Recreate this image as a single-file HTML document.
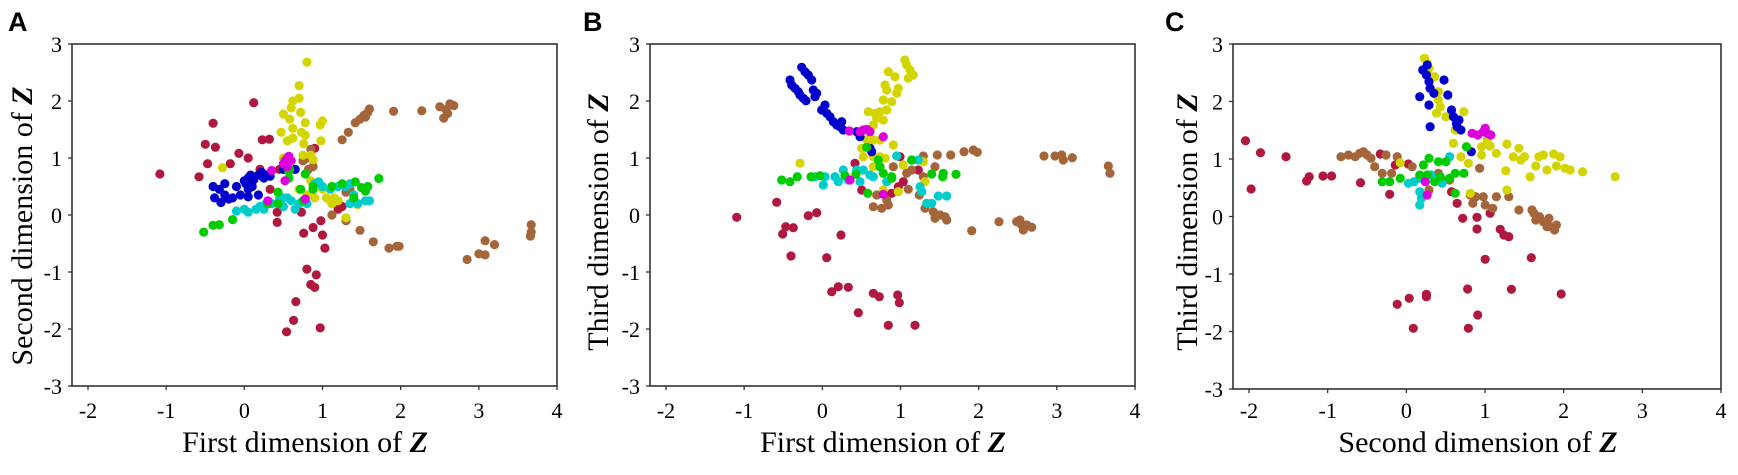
<!DOCTYPE html>
<html><head><meta charset="utf-8"><style>
html,body{margin:0;padding:0;background:#fff;}
svg{display:block;}
</style></head><body>
<svg id="s" width="1738" height="475" xmlns="http://www.w3.org/2000/svg" font-family="'Liberation Serif', serif">
<text x="8" y="31" font-family="'Liberation Sans', sans-serif" font-weight="bold" font-size="27">A</text>
<text x="583" y="31" font-family="'Liberation Sans', sans-serif" font-weight="bold" font-size="27">B</text>
<text x="1165" y="31" font-family="'Liberation Sans', sans-serif" font-weight="bold" font-size="27">C</text>
<text x="305" y="452" font-size="30" text-anchor="middle">First dimension of <tspan font-weight="bold" font-style="italic">Z</tspan></text>
<text x="883" y="452" font-size="30" text-anchor="middle">First dimension of <tspan font-weight="bold" font-style="italic">Z</tspan></text>
<text x="1478" y="452" font-size="30" text-anchor="middle">Second dimension of <tspan font-weight="bold" font-style="italic">Z</tspan></text>
<text transform="translate(32,226) rotate(-90)" font-size="30" text-anchor="middle">Second dimension of <tspan font-weight="bold" font-style="italic">Z</tspan></text>
<text transform="translate(608,222) rotate(-90)" font-size="30" text-anchor="middle">Third dimension of <tspan font-weight="bold" font-style="italic">Z</tspan></text>
<text transform="translate(1197,222) rotate(-90)" font-size="30" text-anchor="middle">Third dimension of <tspan font-weight="bold" font-style="italic">Z</tspan></text>
<g id="g"></g>
</svg>
<script>
var NS="http://www.w3.org/2000/svg",g=document.getElementById('g');
function el(t,a,txt){var e=document.createElementNS(NS,t);for(var k in a)e.setAttribute(k,a[k]);if(txt!==undefined)e.textContent=txt;g.appendChild(e);return e;}
var C={r:'#b0183f',b:'#a5653a',y:'#d4d400',u:'#0000cc',c:'#00cccc',g:'#00cc00',m:'#dd00dd'};
function axes(L,R,T,B,x0,x4){
 el('rect',{x:L,y:T,width:R-L,height:B-T,fill:'none',stroke:'#333','stroke-width':1.6});
 for(var i=0;i<=6;i++){var x=x0+(x4-x0)*i/6;el('line',{x1:x,x2:x,y1:B,y2:B+4,stroke:'#333','stroke-width':1.3});
  el('text',{x:x,y:418,'font-size':22,'text-anchor':'middle'},String(i-2));}
 for(var j=0;j<=6;j++){var y=B-(B-T)*j/6;el('line',{x1:L-4,x2:L,y1:y,y2:y,stroke:'#333','stroke-width':1.3});
  el('text',{x:L-10,y:y+8,'font-size':22,'text-anchor':'end'},String(j-3));}
}
axes(72,557,44,386,88,557);
axes(650,1135,44,386,666,1135);
axes(1233,1721,44,389,1249,1721);
function dot(x,y,c){el('circle',{cx:x.toFixed(1),cy:y.toFixed(1),r:4.6,fill:C[c]});}
var A={
r:[[-1.08,0.72],[-0.58,0.67],[-0.5,1.24],[-0.47,0.9],[-0.4,1.61],[-0.37,1.19],[-0.18,0.9],[-0.07,1.08],[0.05,1.0],[0.12,1.97],[0.23,1.32],[0.32,1.33],[0.2,0.8],[0.33,0.45],[0.42,0.05],[0.42,-0.13],[0.73,0.05],[0.76,-0.32],[0.8,-0.95],[0.66,-1.52],[0.63,-1.85],[0.54,-2.05],[0.97,-1.98],[0.92,-1.05],[0.85,-1.22],[0.9,-1.27],[0.88,-0.22],[0.98,-0.1],[1.0,-0.35],[1.03,-0.58],[1.2,0.1],[1.25,0.15],[0.9,1.17],[0.45,0.8]],
b:[[1.25,1.32],[1.33,1.45],[1.42,1.62],[1.48,1.68],[1.53,1.75],[1.58,1.8],[1.6,1.86],[1.55,1.72],[1.91,1.82],[2.27,1.83],[2.5,1.9],[2.55,1.7],[2.58,1.85],[2.63,1.95],[2.68,1.92],[2.6,1.78],[3.67,-0.17],[3.67,-0.3],[3.66,-0.37],[3.2,-0.52],[3.08,-0.45],[3.08,-0.7],[3.0,-0.68],[2.85,-0.78],[1.95,-0.55],[1.85,-0.58],[1.98,-0.55],[1.65,-0.47],[1.48,-0.27],[1.3,-0.1],[1.12,0.0],[1.3,0.4],[1.35,0.45],[0.8,1.0],[0.75,0.95],[0.82,0.8],[0.88,0.85],[0.85,1.15]],
y:[[0.8,2.68],[0.7,2.27],[0.7,2.05],[0.62,2.0],[0.6,1.88],[0.5,1.77],[0.72,1.8],[0.58,1.68],[0.62,1.52],[0.78,1.62],[0.47,1.45],[0.55,1.3],[0.62,1.35],[0.73,1.45],[0.76,1.25],[0.78,1.4],[1.0,1.65],[0.97,1.58],[0.98,1.3],[0.85,1.05],[0.88,0.97],[0.5,1.0],[0.75,1.05],[-0.28,0.83],[0.7,0.45],[0.85,0.6],[0.95,0.55],[1.0,0.45],[1.05,0.3],[1.1,0.25],[1.15,0.3],[1.2,0.25],[1.12,0.2],[1.3,-0.05],[1.45,0.18],[0.8,0.35],[0.9,0.3]],
u:[[-0.4,0.5],[-0.38,0.3],[-0.32,0.45],[-0.3,0.22],[-0.25,0.35],[-0.25,0.55],[-0.2,0.28],[-0.15,0.3],[-0.1,0.5],[-0.05,0.35],[0.0,0.6],[0.02,0.55],[0.05,0.65],[0.08,0.7],[0.12,0.62],[0.18,0.7],[0.22,0.75],[0.25,0.65],[0.05,0.45],[0.05,0.32],[0.18,0.35],[0.28,0.7],[0.33,0.68],[0.5,0.8],[0.65,0.8],[0.1,0.5]],
c:[[-0.1,0.07],[0.0,0.1],[0.05,0.05],[0.15,0.1],[0.2,0.15],[0.28,0.2],[0.35,0.2],[0.45,0.28],[0.5,0.3],[0.55,0.3],[0.6,0.25],[0.65,0.1],[0.7,0.2],[0.8,0.2],[0.9,0.55],[0.95,0.58],[1.1,0.45],[1.2,0.5],[1.3,0.5],[1.35,0.55],[1.4,0.35],[1.45,0.2],[1.55,0.25],[1.6,0.25],[1.35,0.2],[0.5,0.15],[0.25,0.1],[1.0,0.5]],
g:[[-0.52,-0.3],[-0.4,-0.18],[-0.32,-0.17],[-0.15,-0.08],[0.3,0.2],[0.43,0.2],[0.43,0.4],[0.57,0.65],[0.57,0.77],[0.72,0.45],[0.75,0.25],[0.78,0.72],[0.88,0.5],[0.88,0.45],[1.12,0.5],[1.25,0.55],[1.42,0.58],[1.4,0.3],[1.5,0.48],[1.55,0.45],[1.58,0.5],[1.55,0.42],[1.72,0.64],[0.58,0.8]],
m:[[0.5,0.9],[0.52,0.95],[0.55,1.0],[0.57,1.03],[0.6,0.95],[0.55,0.85],[0.35,0.78],[0.3,0.25],[0.78,0.28],[0.52,0.6]]};
var order=['r','b','y','u','c','g','m'];
order.forEach(function(k){A[k].forEach(function(p){dot(88+(p[0]+2)*78.17,386-(p[1]+3)*57,k);});});
var B={
r:[[290,562],[410,517],[505,557],[530,548],[437,590],[460,593],[428,612],[603,615],[453,678],[560,683],[575,785],[595,770],[625,772],[700,790],[718,800],[773,795],[778,818],[655,848],[745,886],[825,886],[645,400],[665,480],[755,490],[775,470],[790,455],[780,380],[835,420]],
b:[[850,378],[892,375],[932,375],[972,365],[1000,360],[1012,367],[1212,378],[1245,378],[1265,375],[1270,390],[1297,383],[1405,408],[1410,430],[700,530],[725,535],[745,525],[740,510],[710,495],[760,410],[800,430],[805,478],[838,495],[855,535],[880,545],[885,565],[900,555],[920,570],[915,560],[995,602],[1077,575],[1130,575],[1140,570],[1150,600],[1160,585],[1175,592],[1145,585],[850,440],[885,410],[815,420]],
y:[[795,90],[800,105],[810,120],[820,135],[805,145],[745,125],[765,140],[735,165],[740,180],[775,175],[770,190],[730,210],[755,215],[740,240],[720,245],[705,250],[685,245],[710,265],[730,270],[700,285],[690,305],[680,330],[700,330],[720,330],[760,345],[665,355],[670,380],[700,380],[720,380],[735,385],[720,410],[480,400],[700,410],[790,405],[850,395],[855,455],[775,485],[730,480]],
u:[[485,112],[495,125],[505,135],[515,150],[450,150],[455,165],[465,175],[475,185],[480,195],[490,205],[498,212],[520,180],[530,190],[525,200],[545,240],[555,225],[560,250],[570,260],[580,275],[590,285],[600,290],[610,300],[605,275],[650,305],[660,320],[695,365],[690,355]],
c:[[770,378],[815,390],[835,390],[555,440],[550,465],[585,440],[595,455],[610,420],[625,450],[650,420],[670,420],[660,455],[690,435],[700,440],[740,455],[840,470],[845,485],[860,520],[875,520],[895,498],[920,498],[525,440]],
g:[[425,450],[450,455],[472,440],[513,440],[540,437],[615,437],[648,433],[680,352],[715,390],[720,410],[730,430],[755,440],[815,390],[875,432],[910,430],[908,440],[948,433],[683,490],[755,445]],
m:[[628,303],[660,305],[670,300],[680,298],[690,305],[730,320],[730,493],[630,450]]};
order.forEach(function(k){B[k].forEach(function(p){dot(640+p[0]/3,30+p[1]/3,k);});});
var Cc={
r:[[255,422],[295,458],[270,567],[363,470],[418,543],[425,530],[462,528],[485,528],[562,548],[615,462],[640,583],[655,495],[690,492],[805,575],[820,610],[835,655],[873,652],[873,687],[908,640],[935,688],[945,705],[958,710],[895,778],[1018,773],[660,913],[692,895],[738,890],[738,883],[703,985],[848,867],[875,945],[850,985],[965,868],[1098,882]],
b:[[510,470],[530,465],[548,470],[560,460],[570,455],[580,465],[590,475],[600,500],[620,520],[630,465],[660,470],[645,520],[700,500],[770,520],[780,540],[745,570],[800,540],[855,585],[862,610],[870,590],[890,590],[895,615],[915,625],[925,590],[958,590],[985,630],[1020,630],[1030,660],[1040,650],[1050,665],[1060,680],[1070,680],[1080,690],[1085,675],[1025,640],[1065,655],[880,505]],
y:[[733,175],[740,190],[745,205],[735,215],[750,230],[760,230],[770,275],[770,300],[775,320],[765,340],[790,350],[838,335],[815,390],[810,430],[830,470],[850,490],[855,580],[885,440],[900,420],[908,438],[885,465],[925,460],[953,432],[970,470],[985,445],[990,480],[1000,470],[1015,530],[1030,498],[1038,470],[1050,465],[1060,510],[1078,462],[1085,498],[1095,470],[1108,505],[1122,510],[1155,515],[1242,530],[950,512],[953,570],[668,488]],
u:[[728,210],[738,225],[745,245],[748,265],[758,280],[785,240],[795,285],[720,290],[745,315],[748,380],[805,330],[810,350],[818,370],[825,360],[830,390],[820,380],[858,455],[740,195]],
c:[[690,550],[705,545],[720,535],[720,575],[725,595],[720,615],[800,470],[780,550],[750,525]],
g:[[620,545],[640,545],[668,535],[730,495],[745,475],[740,525],[760,545],[770,485],[790,485],[800,535],[815,520],[838,520],[845,440],[815,580],[720,525],[775,530]],
m:[[860,400],[875,405],[890,395],[900,400],[910,405],[895,385],[735,545],[740,585]]};
order.forEach(function(k){Cc[k].forEach(function(p){dot(1150+p[0]/2.67,p[1]/3,k);});});
</script>
</body></html>
